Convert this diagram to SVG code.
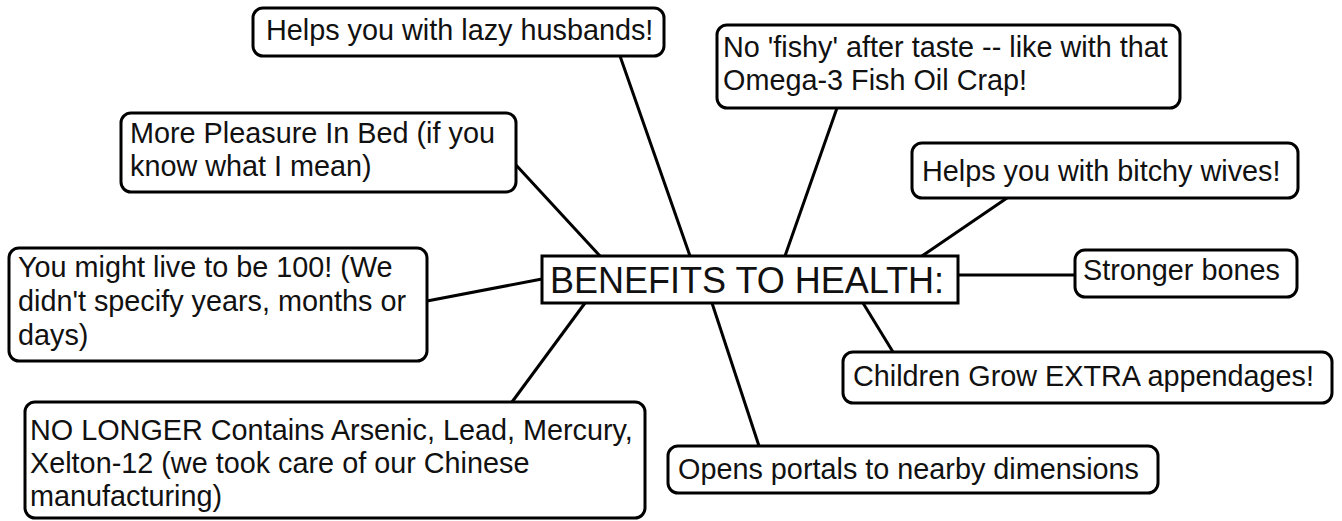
<svg xmlns="http://www.w3.org/2000/svg" width="1342" height="521" viewBox="0 0 1342 521">
<style>
.box{fill:#fff;stroke:#000;stroke-width:3}
.t{font-family:"Liberation Sans",Arial,sans-serif;font-size:28.8px;fill:#111}
.c{font-family:"Liberation Sans",Arial,sans-serif;font-size:36px;fill:#111}
.ln{stroke:#000;stroke-width:3;fill:none}
</style>
<rect width="1342" height="521" fill="#fff"/>
<g id="connectors">
<line class="ln" x1="620" y1="56" x2="690" y2="256"/>
<line class="ln" x1="837" y1="108" x2="785" y2="256"/>
<line class="ln" x1="516" y1="165" x2="600" y2="256"/>
<line class="ln" x1="1007" y1="198" x2="922" y2="256"/>
<line class="ln" x1="958" y1="275" x2="1075" y2="275"/>
<line class="ln" x1="863" y1="303" x2="893" y2="352"/>
<line class="ln" x1="712" y1="303" x2="759" y2="446"/>
<line class="ln" x1="585" y1="303" x2="512" y2="402"/>
<line class="ln" x1="427" y1="301" x2="542" y2="279"/>
</g>
<g id="center">
<rect class="box" x="542" y="256" width="416" height="47"/>
<text class="c" x="550" y="293">BENEFITS TO HEALTH:</text>
</g>
<g id="lazy">
<rect class="box" x="253" y="8" width="411" height="48" rx="10"/>
<text class="t" x="266" y="40">Helps you with lazy husbands!</text>
</g>
<g id="fishy">
<rect class="box" x="717" y="25" width="463" height="83" rx="10"/>
<text class="t" x="723" y="57">No 'fishy' after taste -- like with that</text>
<text class="t" x="723" y="90">Omega-3 Fish Oil Crap!</text>
</g>
<g id="pleasure">
<rect class="box" x="121" y="113" width="395" height="79" rx="10"/>
<text class="t" x="130" y="143">More Pleasure In Bed (if you</text>
<text class="t" x="130" y="176">know what I mean)</text>
</g>
<g id="wives">
<rect class="box" x="912" y="143" width="386" height="55" rx="10"/>
<text class="t" x="922" y="181">Helps you with bitchy wives!</text>
</g>
<g id="live">
<rect class="box" x="9" y="248" width="418" height="113" rx="10"/>
<text class="t" x="18" y="277">You might live to be 100! (We</text>
<text class="t" x="18" y="311">didn't specify years, months or</text>
<text class="t" x="18" y="345">days)</text>
</g>
<g id="bones">
<rect class="box" x="1075" y="250" width="222" height="47" rx="10"/>
<text class="t" x="1083" y="280">Stronger bones</text>
</g>
<g id="children">
<rect class="box" x="843" y="352" width="489" height="51" rx="10"/>
<text class="t" x="853" y="386">Children Grow EXTRA appendages!</text>
</g>
<g id="nolonger">
<rect class="box" x="25" y="402" width="620" height="116" rx="10"/>
<text class="t" x="30" y="440">NO LONGER Contains Arsenic, Lead, Mercury,</text>
<text class="t" x="30" y="473">Xelton-12 (we took care of our Chinese</text>
<text class="t" x="30" y="506">manufacturing)</text>
</g>
<g id="portals">
<rect class="box" x="668" y="446" width="490" height="47" rx="10"/>
<text class="t" x="678" y="479">Opens portals to nearby dimensions</text>
</g>
</svg>
